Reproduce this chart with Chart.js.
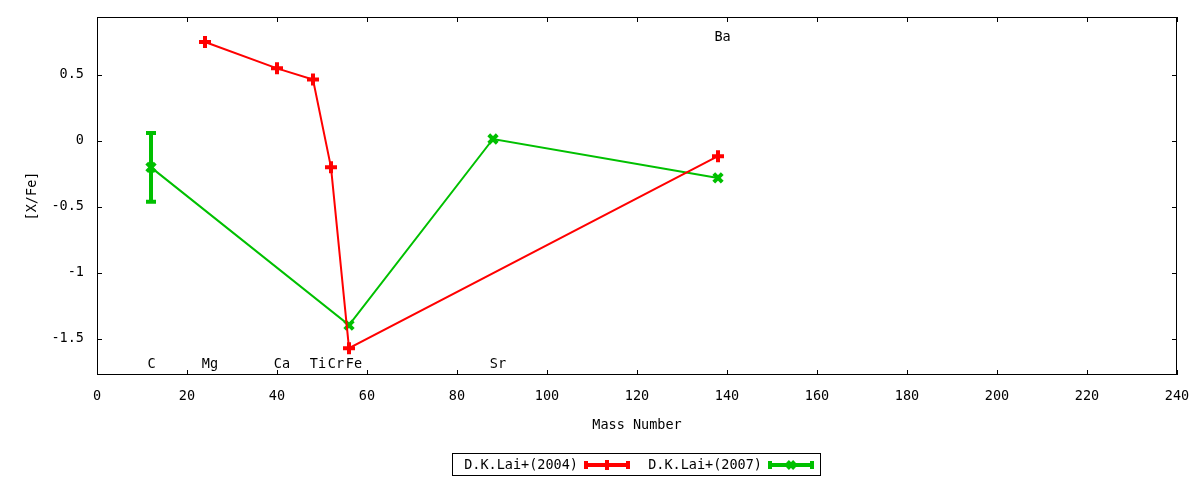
<!DOCTYPE html>
<html><head><meta charset="utf-8">
<script src="https://cdn.jsdelivr.net/npm/chart.js@4.4.0/dist/chart.umd.min.js"></script>
<style>html,body{margin:0;padding:0;background:#fff}#wrap{width:1200px;height:480px}</style>
</head><body><div id="wrap"><canvas id="c" width="1200" height="480"></canvas></div>
<script>
// Data
const lai2004Mass = [24, 40, 48, 52, 56, 138];
const lai2004Val  = [0.75, 0.55, 0.465, -0.20, -1.57, -0.115];
const lai2007Mass = [12, 56, 88, 138];
const lai2007Val  = [-0.20, -1.395, 0.015, -0.28];
const lai2007Err  = [0.26, 0, 0, 0];
const elemNames = ['C', 'Mg', 'Ca', 'Ti', 'Cr', 'Fe', 'Sr', 'Ba'];
const elemMass  = [11.2, 23.3, 39.3, 47.3, 51.3, 55.3, 87.3, 137.2];
const elemY     = [-1.69, -1.69, -1.69, -1.69, -1.69, -1.69, -1.69, 0.78];
const xTicks = [0, 20, 40, 60, 80, 100, 120, 140, 160, 180, 200, 220, 240];
const yTicks = [-1.5, -1, -0.5, 0, 0.5];
const seriesNames = ['D.K.Lai+(2004)', 'D.K.Lai+(2007)'];
const RED = '#ff0000', GREEN = '#00c000';
const FONT = '13.5px "DejaVu Sans Mono", monospace';

const toPts = (xs, ys) => xs.map((x, i) => ({x, y: ys[i]}));

const overlay = {
  id: 'overlay',
  beforeDatasetsDraw(chart) {
    const {ctx, chartArea: a, scales: {x, y}} = chart;
    ctx.save();
    // frame
    ctx.strokeStyle = '#000'; ctx.lineWidth = 1;
    ctx.strokeRect(a.left + 0.5, a.top + 0.5, a.right - a.left - 1, a.bottom - a.top - 1);
    ctx.beginPath();
    xTicks.forEach(v => {
      const px = Math.round(x.getPixelForValue(v)) + 0.5;
      ctx.moveTo(px, a.bottom); ctx.lineTo(px, a.bottom - 5);
      ctx.moveTo(px, a.top); ctx.lineTo(px, a.top + 5);
    });
    yTicks.forEach(v => {
      const py = Math.round(y.getPixelForValue(v)) + 0.5;
      ctx.moveTo(a.left, py); ctx.lineTo(a.left + 5, py);
      ctx.moveTo(a.right, py); ctx.lineTo(a.right - 5, py);
    });
    ctx.stroke();
    // element labels
    ctx.fillStyle = '#000'; ctx.font = FONT; ctx.textAlign = 'left'; ctx.textBaseline = 'middle';
    elemNames.forEach((n, i) => ctx.fillText(n, x.getPixelForValue(elemMass[i]), y.getPixelForValue(elemY[i])));
    // axis titles
    ctx.textAlign = 'center';
    ctx.fillText('Mass Number', (a.left + a.right) / 2, 425);
    ctx.save();
    ctx.translate(32, (a.top + a.bottom) / 2);
    ctx.rotate(-Math.PI / 2);
    ctx.fillText('[X/Fe]', 0, 0);
    ctx.restore();
    // error bars
    ctx.strokeStyle = GREEN; ctx.lineWidth = 4;
    lai2007Err.forEach((e, i) => {
      if (!e) return;
      const px = x.getPixelForValue(lai2007Mass[i]);
      const p1 = y.getPixelForValue(lai2007Val[i] + e), p2 = y.getPixelForValue(lai2007Val[i] - e);
      ctx.beginPath();
      ctx.moveTo(px, p1); ctx.lineTo(px, p2);
      ctx.moveTo(px - 5, p1); ctx.lineTo(px + 5, p1);
      ctx.moveTo(px - 5, p2); ctx.lineTo(px + 5, p2);
      ctx.stroke();
    });
    ctx.restore();
  },
  afterDraw(chart) {
    const {ctx} = chart;
    ctx.save();
    ctx.strokeStyle = '#000'; ctx.lineWidth = 1;
    ctx.strokeRect(452.5, 453.5, 368, 22);
    ctx.font = FONT; ctx.fillStyle = '#000'; ctx.textAlign = 'right'; ctx.textBaseline = 'middle';
    const items = [
      {text: seriesNames[0], tx: 578, x0: 586, x1: 628, color: RED, style: 'cross'},
      {text: seriesNames[1], tx: 762, x0: 770, x1: 812, color: GREEN, style: 'crossRot'}
    ];
    items.forEach(it => {
      const cy = 465;
      ctx.fillText(it.text, it.tx, cy);
      ctx.strokeStyle = it.color; ctx.lineWidth = 4;
      ctx.beginPath();
      ctx.moveTo(it.x0, cy); ctx.lineTo(it.x1, cy);
      ctx.moveTo(it.x0, cy - 4); ctx.lineTo(it.x0, cy + 4);
      ctx.moveTo(it.x1, cy - 4); ctx.lineTo(it.x1, cy + 4);
      ctx.stroke();
      Chart.helpers.drawPoint(ctx, {pointStyle: it.style, radius: 5, rotation: 0, borderWidth: 4}, (it.x0 + it.x1) / 2, cy);
    });
    ctx.restore();
  }
};

new Chart(document.getElementById('c'), {
  type: 'line',
  data: {
    datasets: [
      {label: seriesNames[0], data: toPts(lai2004Mass, lai2004Val), borderColor: RED, backgroundColor: RED,
       borderWidth: 2, pointStyle: 'cross', pointRadius: 6, pointBorderWidth: 4, tension: 0},
      {label: seriesNames[1], data: toPts(lai2007Mass, lai2007Val), borderColor: GREEN, backgroundColor: GREEN,
       borderWidth: 2, pointStyle: 'crossRot', pointRadius: 6, pointBorderWidth: 4, tension: 0}
    ]
  },
  options: {
    responsive: false, animation: false, devicePixelRatio: 1,
    layout: {padding: {left: 0, right: 23, top: 17, bottom: 0}},
    plugins: {legend: {display: false}, tooltip: {enabled: false}},
    scales: {
      x: {type: 'linear', min: 0, max: 240,
          grid: {display: false}, border: {display: false},
          afterBuildTicks: s => { s.ticks = xTicks.map(v => ({value: v})); },
          afterFit: s => { s.height = 105; },
          ticks: {color: '#000', font: {family: '"DejaVu Sans Mono", monospace', size: 13.5}, padding: 5, maxRotation: 0,
                  callback: v => String(v)}},
      y: {type: 'linear', min: -1.773, max: 0.939,
          grid: {display: false}, border: {display: false},
          afterBuildTicks: s => { s.ticks = yTicks.map(v => ({value: v})); },
          afterFit: s => { s.width = 97; },
          ticks: {color: '#000', font: {family: '"DejaVu Sans Mono", monospace', size: 13.5}, padding: 5,
                  callback: v => String(v)}}
    }
  },
  plugins: [overlay]
});
</script></body></html>
